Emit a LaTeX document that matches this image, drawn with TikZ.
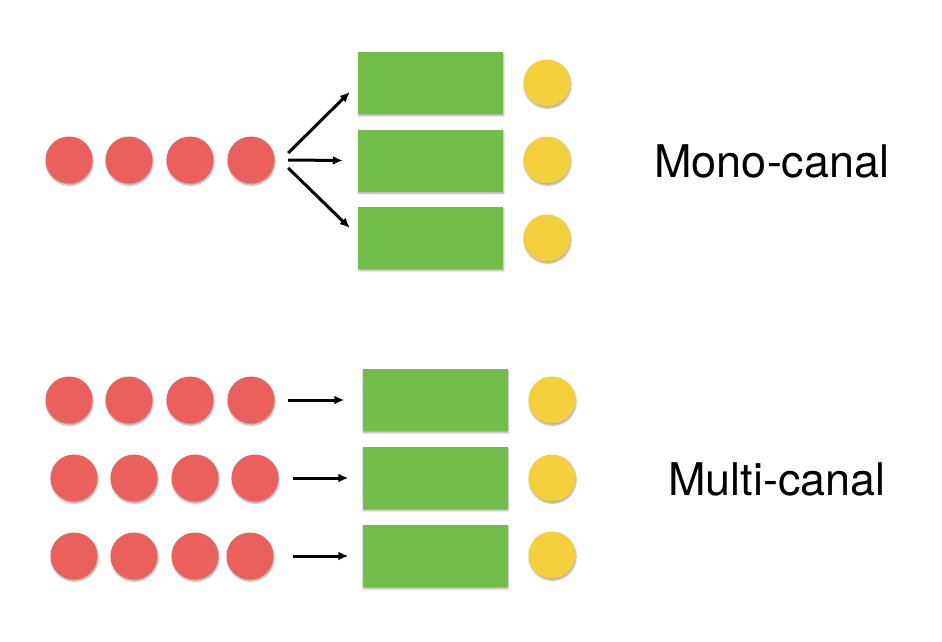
\documentclass[tikz,border=0pt]{standalone}
\usepackage{fontspec}
\setmainfont{TeX Gyre Heros}
\usetikzlibrary{arrows.meta,shadows.blur}
\definecolor{dotred}{HTML}{EA605D}
\definecolor{boxgreen}{HTML}{73BE4A}
\definecolor{dotyellow}{HTML}{F4D13C}
\begin{document}
\begin{tikzpicture}[x=1pt, y=-1pt,
  shade/.style={blur shadow={shadow xshift=0.6pt, shadow yshift=-1.8pt, shadow blur steps=6, shadow blur radius=1.6pt, shadow opacity=35}},
  item/.style={circle, fill=dotred, minimum size=47pt, inner sep=0pt, shade},
  server/.style={rectangle, fill=boxgreen, minimum width=145pt, minimum height=62pt, inner sep=0pt, shade},
  done/.style={circle, fill=dotyellow, minimum size=47pt, inner sep=0pt, shade},
  arr/.style={-{Latex[length=10pt,width=9pt]}, line width=3pt},
  label/.style={font=\fontsize{45}{48}\selectfont, anchor=base}]
\useasboundingbox (0,0) rectangle (942,642);
% mono-canal
\node[item] (r1) at (69,160) {};
\node[item] (r2) at (129,160) {};
\node[item] (r3) at (190,160) {};
\node[item] (r4) at (251,160) {};
\node[server] (g1) at (430.5,83) {};
\node[server] (g2) at (430.5,160.5) {};
\node[server] (g3) at (430.5,238) {};
\node[done] (y1) at (547,83) {};
\node[done] (y2) at (547,160) {};
\node[done] (y3) at (547,238) {};
\draw[arr] ([xshift=13.5pt,yshift=7pt]r4.east) -- ([xshift=-8pt,yshift=-9pt]g1.west);
\draw[arr] ([xshift=13.5pt]r4.east) -- ([xshift=-15pt]g2.west);
\draw[arr] ([xshift=13.5pt,yshift=-8pt]r4.east) -- ([xshift=-8pt,yshift=10pt]g3.west);
\node[label] (mono) at (772,177) {Mono-canal};
% multi-canal
\node[item] (ra1) at (69,400) {};
\node[item] (ra2) at (129,400) {};
\node[item] (ra3) at (190,400) {};
\node[item] (ra4) at (251,400) {};
\node[item] (rb1) at (74,478) {};
\node[item] (rb2) at (134,478) {};
\node[item] (rb3) at (195,478) {};
\node[item] (rb4) at (255,478) {};
\node[item] (rc1) at (74,556) {};
\node[item] (rc2) at (134,556) {};
\node[item] (rc3) at (195,556) {};
\node[item] (rc4) at (250,556) {};
\node[server] (ga) at (435,400) {};
\node[server] (gb) at (435,478) {};
\node[server] (gc) at (435,556) {};
\node[done] (ya) at (552,400) {};
\node[done] (yb) at (552,478) {};
\node[done] (yc) at (552,555) {};
\draw[arr] ([xshift=13.5pt]ra4.east) -- ([xshift=-18pt]ga.west);
\draw[arr] ([xshift=14.5pt]rb4.east) -- ([xshift=-14pt]gb.west);
\draw[arr] ([xshift=19.5pt]rc4.east) -- ([xshift=-14pt]gc.west);
\node[label] (multi) at (777,495) {Multi-canal};
\end{tikzpicture}
\end{document}
